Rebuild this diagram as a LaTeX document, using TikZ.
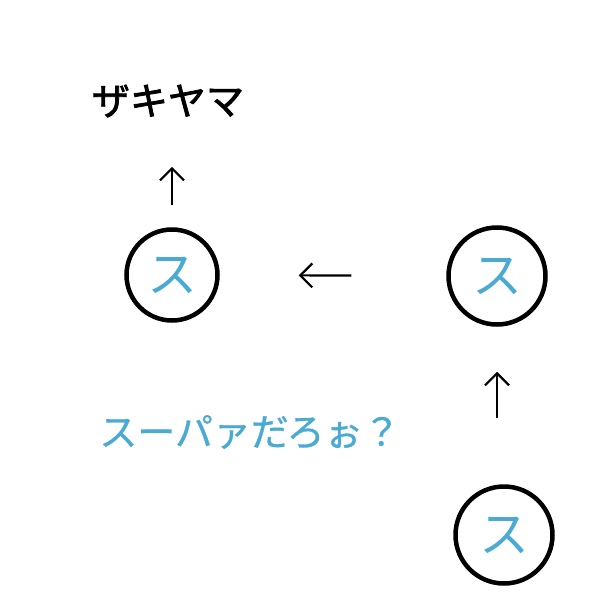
\documentclass[tikz,border=0pt]{standalone}
\usepackage{fontspec}
\setmainfont{Noto Sans CJK JP}
\newfontfamily\titlefont[FakeBold=2]{Noto Sans CJK JP}
\newfontfamily\slogfont[FakeBold=0.8]{Noto Sans CJK JP}
\usepackage{tikz}
\usetikzlibrary{arrows.meta}
\definecolor{kanablue}{RGB}{74,170,212}

\begin{document}
\begin{tikzpicture}[x=1pt,y=-1pt,
	kana/.style={circle,draw=black,line width=4.5pt,text=kanablue,inner sep=0pt,font=\fontsize{50}{50}\selectfont},
	pointer/.style={-{Straight Barb[length=12pt,width=24pt]},line width=2.2pt}]
	\useasboundingbox (0,0) rectangle (615,610);
	\node[font=\titlefont\fontsize{38}{40}\selectfont] (title) at (168,101) {ザキヤマ};
	\node[kana,minimum size=91pt] (s1) at (172,275) {ス};
	\node[kana,minimum size=97pt] (s2) at (497,276) {ス};
	\node[kana,minimum size=97pt] (s3) at (504,535) {ス};
	\node[text=kanablue,font=\slogfont\fontsize{38}{40}\selectfont] (slogan) at (250,432) {スーパァだろぉ？};
	\draw[pointer,shorten <=22pt,shorten >=46pt] (s1.north) -- (s1.north |- title.south);
	\draw[pointer,shorten <=95pt,shorten >=79pt] (s2.west) -- (s1.east);
	\draw[pointer,shorten <=66pt,shorten >=45pt] (s3.north -| s2.south) -- (s2.south);
\end{tikzpicture}
\end{document}
